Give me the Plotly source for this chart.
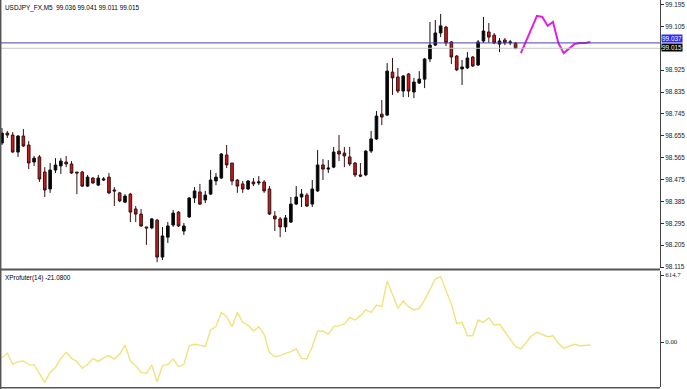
import plotly.graph_objects as go

# ---------------- data ----------------
opens = [98.625, 98.666, 98.658, 98.588, 98.654, 98.617, 98.547, 98.568, 98.506, 98.436,
         98.514, 98.531, 98.547, 98.539, 98.506, 98.506, 98.448, 98.481, 98.452, 98.473,
         98.485, 98.432, 98.420, 98.382, 98.415, 98.354, 98.333, 98.280, 98.276, 98.308,
         98.156, 98.238, 98.288, 98.341, 98.263, 98.321, 98.399, 98.424, 98.391, 98.415,
         98.469, 98.481, 98.576, 98.543, 98.473, 98.457, 98.436, 98.465, 98.461, 98.465,
         98.436, 98.325, 98.313, 98.280, 98.300, 98.374, 98.403, 98.411, 98.374, 98.428,
         98.535, 98.518, 98.526, 98.592, 98.584, 98.568, 98.543, 98.494, 98.494, 98.592,
         98.642, 98.744, 98.740, 98.917, 98.897, 98.839, 98.909, 98.835, 98.872, 98.888,
         98.971, 99.028, 99.078, 99.102, 99.041, 98.983, 98.930, 98.934, 98.979, 98.946,
         99.045, 99.082, 99.069, 99.032, 99.049, 99.037, 99.036]
highs = [98.687, 98.675, 98.670, 98.658, 98.683, 98.633, 98.572, 98.576, 98.526, 98.543,
         98.563, 98.563, 98.572, 98.551, 98.506, 98.510, 98.494, 98.485, 98.494, 98.485,
         98.502, 98.444, 98.424, 98.415, 98.420, 98.366, 98.354, 98.280, 98.317, 98.313,
         98.280, 98.300, 98.350, 98.345, 98.296, 98.403, 98.444, 98.457, 98.428, 98.514,
         98.502, 98.584, 98.617, 98.543, 98.477, 98.469, 98.473, 98.481, 98.489, 98.473,
         98.448, 98.345, 98.321, 98.329, 98.403, 98.448, 98.436, 98.420, 98.473, 98.596,
         98.559, 98.555, 98.609, 98.658, 98.609, 98.609, 98.547, 98.543, 98.596, 98.675,
         98.757, 98.802, 98.954, 98.975, 98.934, 98.905, 98.913, 98.893, 98.921, 98.975,
         99.123, 99.131, 99.156, 99.107, 99.045, 98.987, 98.967, 98.999, 98.983, 99.049,
         99.144, 99.119, 99.078, 99.057, 99.057, 99.049, 99.041]
lows = [98.617, 98.646, 98.585, 98.568, 98.609, 98.518, 98.531, 98.465, 98.403, 98.420,
        98.502, 98.498, 98.526, 98.498, 98.415, 98.444, 98.444, 98.457, 98.448, 98.469,
        98.415, 98.366, 98.382, 98.378, 98.300, 98.300, 98.280, 98.206, 98.271, 98.135,
        98.144, 98.214, 98.280, 98.280, 98.247, 98.317, 98.378, 98.370, 98.378, 98.411,
        98.452, 98.477, 98.522, 98.452, 98.420, 98.420, 98.432, 98.448, 98.452, 98.420,
        98.329, 98.263, 98.238, 98.259, 98.296, 98.370, 98.362, 98.362, 98.362, 98.424,
        98.473, 98.502, 98.522, 98.551, 98.526, 98.531, 98.485, 98.485, 98.489, 98.584,
        98.638, 98.699, 98.736, 98.823, 98.831, 98.814, 98.814, 98.810, 98.868, 98.851,
        98.958, 99.024, 99.061, 99.024, 98.950, 98.921, 98.864, 98.930, 98.938, 98.942,
        99.037, 99.037, 99.032, 98.999, 99.028, 99.028, 99.011]
closes = [98.666, 98.658, 98.588, 98.654, 98.613, 98.543, 98.563, 98.477, 98.432, 98.514,
          98.535, 98.551, 98.539, 98.502, 98.502, 98.448, 98.485, 98.461, 98.481, 98.477,
          98.420, 98.428, 98.387, 98.407, 98.341, 98.333, 98.284, 98.276, 98.313, 98.156,
          98.243, 98.284, 98.337, 98.284, 98.284, 98.399, 98.428, 98.374, 98.411, 98.473,
          98.485, 98.580, 98.535, 98.469, 98.448, 98.436, 98.469, 98.457, 98.465, 98.428,
          98.333, 98.313, 98.280, 98.317, 98.374, 98.403, 98.415, 98.366, 98.436, 98.535,
          98.518, 98.522, 98.588, 98.580, 98.572, 98.539, 98.494, 98.489, 98.592, 98.642,
          98.736, 98.732, 98.921, 98.893, 98.839, 98.901, 98.839, 98.876, 98.888, 98.971,
          99.028, 99.078, 99.107, 99.037, 98.979, 98.926, 98.938, 98.975, 98.942, 99.041,
          99.086, 99.061, 99.037, 99.045, 99.037, 99.041, 99.015]
bars = list(range(len(opens)))

forecast_bars = list(range(97, 111))
forecast_vals = [98.995, 99.045, 99.098, 99.148, 99.144, 99.107, 99.123, 99.037,
                 98.995, 99.012, 99.032, 99.037, 99.037, 99.041]

indicator_vals = [-144, -101, -205, -180, -174, -208, -211, -288, -370, -278,
                  -235, -150, -95, -150, -180, -242, -205, -150, -180, -144,
                  -125, -156, -113, -28, -174, -217, -278, -288, -211, -364,
                  -217, -205, -156, -226, -205, -34, -21, -28, -43, 110,
                  141, 272, 232, 141, 272, 181, 156, 101, 141, 70,
                  -95, -135, -125, -104, -89, -64, -150, -156, -43, 101,
                  101, 70, 141, 150, 166, 223, 202, 242, 294, 272,
                  339, 324, 560, 437, 309, 376, 324, 294, 309, 385,
                  477, 578, 600, 477, 346, 171, 180, 58, 58, 202,
                  180, 223, 156, 162, 95, 18, -43, -64, -3, 58,
                  89, 70, 49, 58, -12, -58, -43, -21, -34, -28, -28]
indicator_bars = list(range(len(indicator_vals)))

price_ticks = [98.115, 98.205, 98.295, 98.385, 98.475, 98.565, 98.655,
               98.745, 98.835, 98.925, 99.015, 99.105, 99.195]
price_tick_text = ["98.115", "98.205", "98.295", "98.385", "98.475", "98.565", "98.655",
                   "98.745", "98.835", "98.925", "", "99.105", "99.195"]
ind_ticks = [614.7, 0.0]
ind_tick_text = ["614.7", "0.00"]

ask_price = 99.037
bid_price = 99.015
header = "USDJPY_FX,M5  99.036 99.041 99.011 99.015"
ind_header = "XProfuter(14) -21.0800"

# ---------------- figure ----------------
FONT = "Liberation Sans"
FS = 6.4
fig = go.Figure()

fig.add_trace(go.Candlestick(
    x=bars, open=opens, high=highs, low=lows, close=closes,
    increasing=dict(line=dict(color="#111111", width=1), fillcolor="#000000"),
    decreasing=dict(line=dict(color="#3a1010", width=1), fillcolor="#cc1a1a"),
    whiskerwidth=0, xaxis="x", yaxis="y", showlegend=False, hoverinfo="skip"))

fig.add_trace(go.Scatter(
    x=forecast_bars, y=forecast_vals, mode="lines",
    line=dict(color="#e020e0", width=2), xaxis="x", yaxis="y",
    showlegend=False, hoverinfo="skip"))

fig.add_trace(go.Scatter(
    x=indicator_bars, y=indicator_vals, mode="lines",
    line=dict(color="#f1e27e", width=1.4), xaxis="x2", yaxis="y2",
    showlegend=False, hoverinfo="skip"))

xr = [-0.37, 123.0]
xdom = [0, 660 / 687]
fig.update_layout(
    width=687, height=389,
    margin=dict(l=0, r=0, t=0, b=0, pad=0),
    paper_bgcolor="white", plot_bgcolor="white",
    font=dict(family=FONT, size=FS, color="#222"),
    xaxis=dict(domain=xdom, range=xr, showgrid=False, zeroline=False,
               showticklabels=False, ticks="", rangeslider=dict(visible=False),
               anchor="y", automargin=False),
    yaxis=dict(domain=[0.311, 1.0], range=[98.111, 99.2135], side="right",
               tickvals=price_ticks, ticktext=price_tick_text, ticks="outside",
               ticklen=3, tickcolor="#333", showgrid=False, zeroline=False,
               showline=True, linecolor="#444", linewidth=1, anchor="x",
               automargin=False,
               tickfont=dict(family=FONT, size=FS, color="#222")),
    xaxis2=dict(domain=xdom, range=xr, showgrid=False, zeroline=False,
                showticklabels=False, ticks="", anchor="y2", automargin=False),
    yaxis2=dict(domain=[0.0051, 0.3033], range=[-412.9, 651.4], side="right",
                tickvals=ind_ticks, ticktext=ind_tick_text, ticks="outside",
                ticklen=3, tickcolor="#333", showgrid=False, zeroline=False,
                showline=True, linecolor="#444", linewidth=1, anchor="x2",
                automargin=False,
                tickfont=dict(family="Liberation Serif", size=FS + 0.4, color="#222")),
)

# price lines
fig.add_shape(type="line", xref="x domain", yref="y", x0=0, x1=1,
              y0=bid_price, y1=bid_price, line=dict(color="#c8c8c8", width=1))
fig.add_shape(type="line", xref="x domain", yref="y", x0=0, x1=1,
              y0=ask_price, y1=ask_price, line=dict(color="#4a3fb0", width=1))

# panel borders
fig.add_shape(type="line", xref="paper", yref="paper", x0=0, x1=660 / 687,
              y0=1 - 269.5 / 389, y1=1 - 269.5 / 389, line=dict(color="#555", width=2))
fig.add_shape(type="line", xref="paper", yref="paper", x0=0, x1=660 / 687,
              y0=1 - 387.8 / 389, y1=1 - 387.8 / 389, line=dict(color="#555", width=1.5))
fig.add_shape(type="line", xref="paper", yref="paper", x0=0.7 / 687, x1=0.7 / 687,
              y0=0, y1=1, line=dict(color="#555", width=1.5))

# price tags
fig.add_annotation(xref="paper", yref="y", x=661 / 687, y=ask_price, xanchor="left",
                   yanchor="bottom", text=f"{ask_price:.3f}", showarrow=False,
                   bgcolor="#2a2aff", font=dict(color="white", size=FS, family=FONT),
                   borderpad=0)
fig.add_annotation(xref="paper", yref="y", x=661 / 687, y=ask_price, xanchor="left",
                   yanchor="top", text=f"{bid_price:.3f}", showarrow=False,
                   bgcolor="#000000", font=dict(color="white", size=FS, family=FONT),
                   borderpad=0)

# headers
fig.add_annotation(xref="paper", yref="paper", x=3 / 687, y=1 - 2 / 389,
                   xanchor="left", yanchor="top", text=header, showarrow=False,
                   font=dict(color="#000", size=FS, family=FONT))
fig.add_annotation(xref="paper", yref="paper", x=3 / 687, y=1 - 272 / 389,
                   xanchor="left", yanchor="top", text=ind_header, showarrow=False,
                   font=dict(color="#000", size=FS, family=FONT))

fig.write_html("out.html", config={"displayModeBar": False},
               post_script="document.body.style.margin='0';document.body.style.overflow='hidden';")
